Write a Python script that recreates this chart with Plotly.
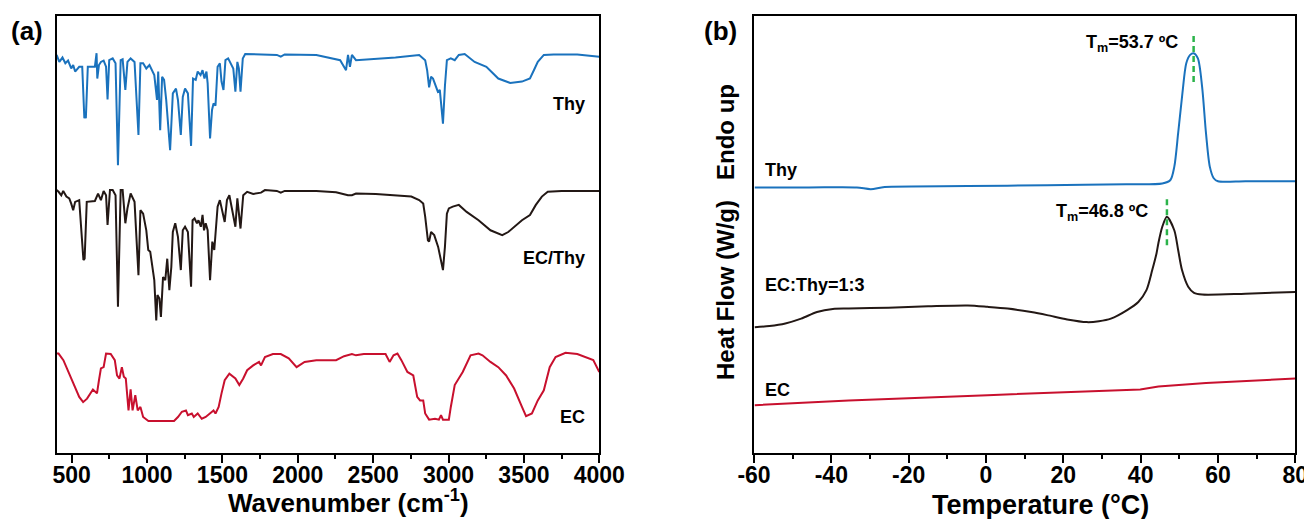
import plotly.graph_objects as go

# ---------------- Panel (a): FTIR ----------------
thy_wn = [400, 418, 439, 458, 476, 497, 510, 523, 550, 570, 584, 589, 594, 607, 654, 665, 670, 681,
          694, 712, 728, 738, 749, 772, 791, 807, 825, 838, 856, 870, 891, 917, 943, 956, 974, 995,
          1016, 1035, 1048, 1066, 1074, 1087, 1100, 1113, 1127, 1153, 1171, 1192, 1205, 1224, 1237,
          1252, 1271, 1292, 1305, 1323, 1336, 1355, 1368, 1381, 1394, 1402, 1418, 1431, 1441, 1454,
          1468, 1483, 1494, 1507, 1520, 1538, 1572, 1586, 1599, 1609, 1620, 1635, 1651, 1861, 1887,
          1913, 2123, 2281, 2307, 2320, 2333, 2346, 2359, 2386, 2648, 2805, 2845, 2858, 2871, 2884,
          2897, 2910, 2929, 2942, 2963, 2976, 2989, 3015, 3041, 3068, 3107, 3173, 3251, 3330, 3409,
          3487, 3540, 3566, 3592, 3632, 3697, 3854, 4000]
thy_T = [91.1, 89.5, 90.5, 89.2, 89.8, 88.0, 88.8, 87.3, 88.4, 88.4, 76.6, 78.0, 76.6, 88.4, 88.4, 91.5, 85.7, 88.8,
         89.5, 89.8, 88.4, 80.9, 89.9, 90.3, 89.2, 65.9, 89.9, 90.1, 83.1, 89.5, 90.3, 89.5, 72.8, 89.2, 89.2, 88.0,
         88.8, 87.6, 86.5, 80.8, 87.3, 73.9, 86.1, 85.4, 80.8, 69.3, 82.3, 83.4, 80.8, 72.8, 81.5,
         83.4, 82.3, 70.3, 85.7, 85.4, 87.3, 86.5, 87.6, 85.7, 87.3, 84.6, 72.0, 78.5, 80.0, 79.5,
         88.4, 89.2, 85.0, 83.1, 89.9, 90.3, 88.0, 82.7, 89.5, 88.0, 82.7, 90.3, 91.3, 91.1, 90.7,
         91.2, 91.1, 89.9, 88.4, 87.6, 91.1, 88.4, 91.1, 89.9, 90.5, 91.1, 89.9, 87.6, 83.7, 86.1,
         85.7, 84.6, 82.7, 83.1, 75.4, 84.0, 89.9, 90.3, 89.9, 91.1, 91.3, 89.5, 88.4, 85.7, 84.7,
         85.0, 85.7, 87.6, 89.5, 91.1, 91.2, 91.2, 90.7]

ecthy_wn = [400, 413, 431, 444, 465, 484, 497, 510, 523, 550, 578, 586, 600, 654, 675, 694, 712, 728, 738, 754,
            772, 791, 807, 825, 838, 856, 870, 891, 917, 943, 956, 974, 995, 1008, 1021, 1035, 1048, 1061,
            1069, 1082, 1092, 1106, 1121, 1134, 1148, 1161, 1171, 1187, 1205, 1224, 1237, 1252, 1271, 1292,
            1302, 1315, 1331, 1341, 1357, 1368, 1378, 1389, 1402, 1418, 1433, 1446, 1468, 1483, 1515, 1530,
            1546, 1586, 1599, 1620, 1638, 1664, 1704, 1756, 1782, 1861, 1887, 1913, 2123, 2254, 2333, 2359,
            2386, 2517, 2648, 2753, 2805, 2832, 2845, 2863, 2871, 2884, 2905, 2918, 2931, 2963, 2976, 2989,
            3002, 3028, 3068, 3120, 3199, 3278, 3356, 3396, 3435, 3487, 3540, 3579, 3619, 3658, 3750, 4000]
ecthy_T = [60.2, 59.8, 59.0, 60.0, 58.7, 58.3, 57.1, 55.6, 57.5, 57.9, 44.2, 44.5, 57.5, 57.7, 59.4, 57.9, 60.0, 59.0, 52.2, 60.2,
           60.2, 59.0, 33.5, 60.2, 60.2, 52.6, 56.0, 59.4, 57.5, 40.7, 55.6, 54.8, 51.0, 46.5, 46.1, 42.6, 39.6, 30.4,
           36.2, 35.4, 31.2, 40.3, 39.6, 44.5, 37.3, 42.6, 50.6, 52.6, 49.5, 41.9, 51.0, 51.8, 50.6, 38.1,
           53.3, 53.7, 52.6, 53.3, 51.8, 54.5, 51.0, 52.6, 51.0, 39.6, 48.4, 46.5, 56.4, 57.9, 52.9, 57.9,
           59.0, 51.8, 58.3, 51.4, 59.0, 59.8, 59.3, 59.6, 60.2, 60.0, 59.6, 60.0, 60.0, 59.7, 59.0, 59.0,
           59.4, 59.3, 59.0, 58.7, 57.9, 57.1, 54.1, 48.7, 48.4, 50.6, 49.9, 48.7, 47.2, 41.9, 47.2, 54.8,
           56.0, 56.4, 56.8, 55.2, 53.3, 51.0, 49.9, 50.6, 51.8, 53.3, 54.5, 56.8, 58.7, 59.8, 60.0, 60.0]

ec_wn = [400, 413, 445, 484, 523, 550, 576, 602, 641, 668, 681, 694, 712, 728, 759, 786, 801, 817, 833, 846,
         859, 877, 891, 904, 922, 938, 956, 974, 1009, 1074, 1179, 1205, 1231, 1258, 1271, 1297, 1310, 1336,
         1363, 1389, 1415, 1441, 1454, 1462, 1475, 1494, 1515, 1546, 1586, 1612, 1638, 1664, 1704, 1743,
         1756, 1782, 1835, 1887, 1940, 1992, 2045, 2123, 2176, 2254, 2307, 2359, 2386, 2438, 2582, 2609,
         2635, 2661, 2687, 2727, 2766, 2792, 2811, 2832, 2845, 2871, 2910, 2936, 2950, 2963, 2989, 3002,
         3015, 3041, 3094, 3146, 3199, 3225, 3278, 3330, 3382, 3435, 3487, 3514, 3553, 3592, 3632, 3671,
         3710, 3776, 3854, 3907, 3960, 4000]
ec_T = [22.8, 22.8, 21.3, 18.2, 14.8, 12.9, 11.7, 12.5, 14.6, 13.7, 16.7, 19.4, 19.7, 22.8, 22.7, 21.3, 17.8, 17.1, 19.7, 17.5,
        17.1, 9.8, 14.6, 9.8, 13.3, 9.8, 10.6, 8.3, 7.4, 7.4, 7.4, 8.3, 9.5, 9.8, 8.7, 9.1, 8.3, 9.1,
        7.9, 8.3, 9.1, 9.8, 9.1, 9.8, 10.6, 13.7, 16.7, 18.2, 17.1, 15.6, 17.1, 19.0, 20.1, 20.9,
        20.1, 22.0, 22.7, 22.7, 21.7, 19.7, 20.9, 21.3, 21.3, 21.3, 22.2, 22.7, 22.4, 22.7, 22.7, 20.9,
        22.4, 22.8, 21.3, 18.6, 17.8, 12.9, 12.1, 12.1, 9.1, 7.7, 7.9, 7.7, 8.7, 7.7, 7.7, 7.7,
        10.6, 15.6, 18.6, 22.4, 22.8, 22.4, 20.9, 19.7, 17.8, 14.8, 10.6, 8.5, 9.1, 12.1, 14.4, 19.7,
        22.0, 23.0, 22.7, 22.0, 21.3, 18.6]

# ---------------- Panel (b): DSC ----------------
dsc_thy_t = [-59.8, -45.8, -33.4, -29.8, -26.2, -4.7, 15.8, 36.3, 45.6, 47.7, 48.7, 49.7, 50.8, 51.8, 52.8,
             53.7, 54.8, 55.9, 56.9, 57.9, 58.9, 60.0, 67.1, 80.0]
dsc_thy_q = [60.8, 60.8, 60.8, 60.4, 60.9, 61.1, 61.3, 61.5, 61.7, 62.5, 65.5, 73.2, 82.3, 89.2, 91.1,
             91.5, 90.3, 83.8, 73.2, 65.5, 62.9, 62.2, 62.2, 62.2]

dsc_mix_t = [-59.8, -56.0, -51.9, -47.8, -43.7, -39.6, -35.5, -25.2, -15.0, -4.7, 0.4, 5.6, 11.7, 15.8, 21.0,
             26.1, 29.2, 32.3, 36.4, 39.4, 41.5, 43.0, 44.1, 44.6, 45.6, 46.8, 48.7, 49.7, 50.7, 52.3,
             53.8, 55.9, 67.1, 80.0]
dsc_mix_q = [28.8, 29.1, 29.7, 30.8, 32.3, 33.0, 33.1, 33.3, 33.6, 33.8, 33.5, 33.1, 32.3, 31.6, 30.6,
             30.0, 30.2, 30.8, 32.7, 34.6, 37.3, 41.9, 45.7, 48.1, 51.8, 54.1, 51.0, 46.5, 41.9, 38.1,
             36.7, 36.3, 36.5, 36.9]

dsc_ec_t = [-59.8, -35.5, 0.4, 26.1, 39.9, 44.6, 56.9, 80.0]
dsc_ec_q = [11.0, 12.1, 13.3, 14.2, 14.6, 15.3, 16.1, 17.1]

tm_values = [53.7, 46.8]
tm_line_tops = [95.9, 58.6]
tm_line_bottoms = [84.9, 47.6]

ftir_ticks = [500, 1000, 1500, 2000, 2500, 3000, 3500, 4000]
ftir_ticktext = ["500", "1000", "1500", "2000", "2500", "3000", "3500", "4000"]
dsc_ticks = [-60, -40, -20, 0, 20, 40, 60, 80]
dsc_ticktext = ["-60", "-40", "-20", "0", "20", "40", "60", "80"]

BLUE = "#1a72bd"
BLACK = "#231815"
RED = "#c8102e"
GREEN = "#2bb34a"
FONT = "Liberation Sans, Arial, sans-serif"

# page offset of the plot div (browser default body margin)
OFF = 8.0
W, H = 1312.0, 519.0


def px(x):
    return (x - OFF) / W


def py(y):
    return (H + OFF - y) / H


fig = go.Figure()
fig.add_trace(go.Scatter(x=thy_wn, y=thy_T, mode="lines", line=dict(color=BLUE, width=2), xaxis="x", yaxis="y"))
fig.add_trace(go.Scatter(x=ecthy_wn, y=ecthy_T, mode="lines", line=dict(color=BLACK, width=2), xaxis="x", yaxis="y"))
fig.add_trace(go.Scatter(x=ec_wn, y=ec_T, mode="lines", line=dict(color=RED, width=2), xaxis="x", yaxis="y"))

fig.add_trace(go.Scatter(x=dsc_thy_t, y=dsc_thy_q, mode="lines", line=dict(color=BLUE, width=2, shape="spline", smoothing=0.8), xaxis="x2", yaxis="y2"))
fig.add_trace(go.Scatter(x=dsc_mix_t, y=dsc_mix_q, mode="lines", line=dict(color=BLACK, width=2, shape="spline", smoothing=0.8), xaxis="x2", yaxis="y2"))
fig.add_trace(go.Scatter(x=dsc_ec_t, y=dsc_ec_q, mode="lines", line=dict(color=RED, width=2), xaxis="x2", yaxis="y2"))

for tm, top, bot in zip(tm_values, tm_line_tops, tm_line_bottoms):
    fig.add_trace(go.Scatter(x=[tm, tm], y=[bot, top], mode="lines",
                             line=dict(color=GREEN, width=2.5, dash="6px,4px"), xaxis="x2", yaxis="y2"))

axis_common = dict(showline=True, linecolor="black", linewidth=2, mirror=True, showgrid=False,
                   zeroline=False, automargin=False)
xfont = dict(family=FONT, size=23, color="black", weight="bold")

ydom = [py(453.3), py(16)]
fig.update_layout(
    template="none",
    width=W, height=H,
    margin=dict(l=0, r=0, t=0, b=0, autoexpand=False),
    paper_bgcolor="white", plot_bgcolor="white",
    showlegend=False,
    font=dict(family=FONT, color="black"),
    xaxis=dict(domain=[px(56.6), px(599.3)], range=[400, 4000], tickvals=ftir_ticks, ticktext=ftir_ticktext,
               ticks="outside", ticklen=8, tickwidth=2, tickcolor="black", tickfont=xfont, ticklabelstandoff=-8,
               minor=dict(dtick=250, tick0=0, ticks="outside", ticklen=4, tickwidth=2, tickcolor="black"),
               anchor="y", **axis_common),
    yaxis=dict(domain=ydom, range=[0, 100], showticklabels=False,
               ticks="", anchor="x", **axis_common),
    xaxis2=dict(domain=[px(754), px(1295.3)], range=[-60, 80], tickvals=dsc_ticks, ticktext=dsc_ticktext,
                ticks="outside", ticklen=8, tickwidth=2, tickcolor="black", tickfont=xfont, ticklabelstandoff=-8,
                minor=dict(dtick=10, tick0=0, ticks="outside", ticklen=4, tickwidth=2, tickcolor="black"),
                anchor="y2", **axis_common),
    yaxis2=dict(domain=ydom, range=[0, 100], showticklabels=False,
                ticks="", anchor="x2", **axis_common),
)

lab = dict(family=FONT, size=18, color="black", weight="bold")
big = dict(family=FONT, size=26, color="black", weight="bold")
ann = [
    dict(text="Thy", x=3918, y=79.9, xref="x", yref="y", xanchor="right", yanchor="middle", showarrow=False, font=lab),
    dict(text="EC/Thy", x=3918, y=44.7, xref="x", yref="y", xanchor="right", yanchor="middle", showarrow=False, font=lab),
    dict(text="EC", x=3918, y=8.3, xref="x", yref="y", xanchor="right", yanchor="middle", showarrow=False, font=lab),
    dict(text="Thy", x=-57.7, y=64.8, xref="x2", yref="y2", xanchor="left", yanchor="middle", showarrow=False, font=lab),
    dict(text="EC:Thy=1:3", x=-57.7, y=38.4, xref="x2", yref="y2", xanchor="left", yanchor="middle", showarrow=False, font=lab),
    dict(text="EC", x=-57.7, y=14.4, xref="x2", yref="y2", xanchor="left", yanchor="middle", showarrow=False, font=lab),
    dict(text="T<sub>m</sub>=53.7 ºC", x=50.2, y=93.8, xref="x2", yref="y2", xanchor="right", yanchor="middle", showarrow=False, font=lab),
    dict(text="T<sub>m</sub>=46.8 ºC", x=42.5, y=55.1, xref="x2", yref="y2", xanchor="right", yanchor="middle", showarrow=False, font=lab),
    dict(text="(a)", x=px(27), y=py(31), xref="paper", yref="paper", xanchor="center", yanchor="middle",
         showarrow=False, font=big),
    dict(text="(b)", x=px(720), y=py(31), xref="paper", yref="paper", xanchor="center", yanchor="middle",
         showarrow=False, font=big),
    dict(text="Wavenumber (cm<sup>-1</sup>)", x=px(348), y=py(501), xref="paper", yref="paper",
         xanchor="center", yanchor="middle", showarrow=False,
         font=dict(family=FONT, size=26, color="black", weight="bold")),
    dict(text="Temperature (°C)", x=px(1040), y=py(505), xref="paper", yref="paper",
         xanchor="center", yanchor="middle", showarrow=False,
         font=dict(family=FONT, size=27, color="black", weight="bold")),
    dict(text="Heat Flow (W/g)\u00a0\u00a0\u00a0Endo up", x=px(725), y=py(232), xref="paper", yref="paper",
         xanchor="center", yanchor="middle", textangle=-90, showarrow=False,
         font=dict(family=FONT, size=24, color="black", weight="bold")),
]
fig.update_layout(annotations=ann)

fig.write_html("out.html")
